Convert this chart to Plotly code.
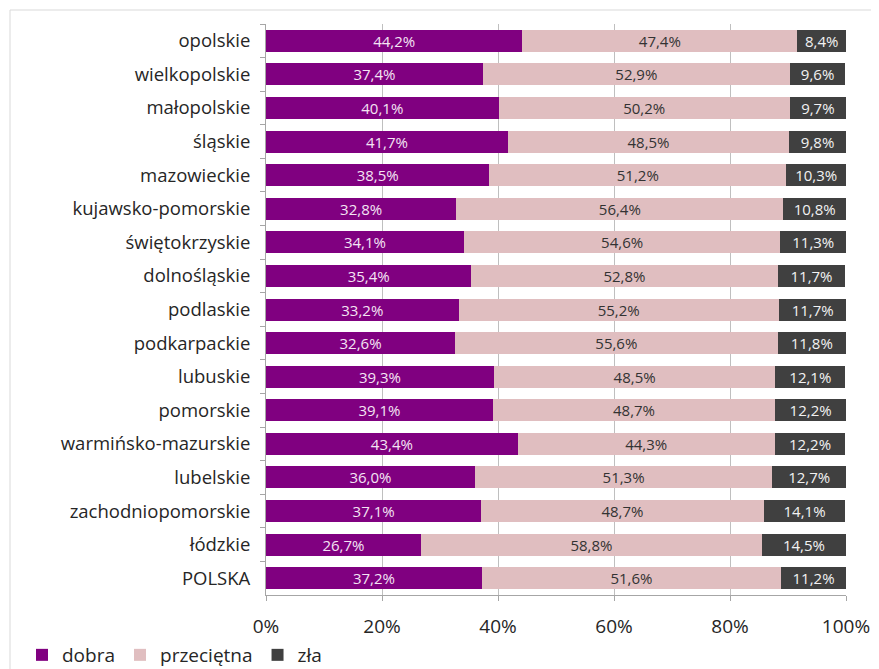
import plotly.graph_objects as go

categories = ["opolskie", "wielkopolskie", "małopolskie", "śląskie", "mazowieckie",
              "kujawsko-pomorskie", "świętokrzyskie", "dolnośląskie", "podlaskie",
              "podkarpackie", "lubuskie", "pomorskie", "warmińsko-mazurskie",
              "lubelskie", "zachodniopomorskie", "łódzkie", "POLSKA"]
dobra = [44.2, 37.4, 40.1, 41.7, 38.5, 32.8, 34.1, 35.4, 33.2, 32.6, 39.3, 39.1, 43.4, 36.0, 37.1, 26.7, 37.2]
przecietna = [47.4, 52.9, 50.2, 48.5, 51.2, 56.4, 54.6, 52.8, 55.2, 55.6, 48.5, 48.7, 44.3, 51.3, 48.7, 58.8, 51.6]
zla = [8.4, 9.6, 9.7, 9.8, 10.3, 10.8, 11.3, 11.7, 11.7, 11.8, 12.1, 12.2, 12.2, 12.7, 14.1, 14.5, 11.2]
series_names = ["dobra", "przeciętna", "zła"]
colors = ["#800080", "#E0BEC0", "#404040"]
text_colors = ["#F4E4F4", "#333333", "#F2F2F2"]
tick_vals = [0, 0.2, 0.4, 0.6, 0.8, 1.0]

FONT = "Open Sans"
fig = go.Figure()
for name, vals, col, tcol in zip(series_names, [dobra, przecietna, zla], colors, text_colors):
    fig.add_trace(go.Bar(
        y=categories, x=[v / 100 for v in vals], name=name, orientation="h",
        marker=dict(color=col, line=dict(width=0)),
        text=[v / 100 for v in vals], texttemplate="%{x:.1%}",
        textposition="inside", insidetextanchor="middle", textangle=0,
        insidetextfont=dict(color=tcol, size=15, family=FONT),
        constraintext="none", hoverinfo="skip",
    ))

# page body has an 8px offset; positions below are in figure coordinates
L, R, T, B = 258, 838, 16, 587
W, H = 879, 669
fig.update_layout(
    width=W, height=H, barmode="stack", bargap=0.345,
    separators=", ",
    paper_bgcolor="white", plot_bgcolor="white",
    margin=dict(l=L, r=W - R, t=T, b=H - B, pad=0, autoexpand=False),
    font=dict(family=FONT, size=18.5, color="#262626"),
    showlegend=True,
    legend=dict(orientation="h", x=(14 - L) / (R - L), y=(B - 647) / (B - T),
                xanchor="left", yanchor="middle", font=dict(size=19),
                itemwidth=30, tracegroupgap=0, traceorder="normal",
                bgcolor="rgba(0,0,0,0)"),
    xaxis=dict(range=[0, 1], tickvals=tick_vals, tickformat=".0%",
               showgrid=True, gridcolor="#BFBFBF", gridwidth=1,
               showline=True, linecolor="#A6A6A6", linewidth=1,
               ticks="outside", ticklen=5, tickcolor="#A6A6A6",
               zeroline=False, ticklabelstandoff=9, automargin=False,
               tickfont=dict(size=19, color="#262626")),
    yaxis=dict(autorange="reversed", showline=True, linecolor="#A6A6A6", linewidth=1,
               ticks="outside", ticklen=5, tickcolor="#A6A6A6", tickson="boundaries",
               showgrid=False, ticklabelstandoff=11, automargin=False,
               tickfont=dict(size=18.5, color="#262626")),
    shapes=[dict(type="rect", xref="paper", yref="paper",
                 x0=(2 - L) / (R - L), x1=(W + 20 - L) / (R - L),
                 y0=(B - H - 20) / (B - T), y1=(B - 2) / (B - T),
                 line=dict(color="#D9D9D9", width=1), fillcolor="rgba(0,0,0,0)",
                 layer="below")],
)
fig.write_html("out.html")
